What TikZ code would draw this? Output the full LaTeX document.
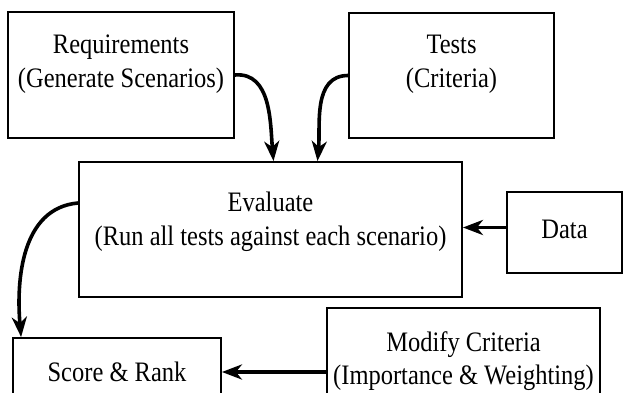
\documentclass[tikz,border=0pt]{standalone}
\usepackage{fontspec}
\setmainfont{Liberation Serif}
\usetikzlibrary{arrows.meta,calc}
\begin{document}
\begin{tikzpicture}[x=1pt,y=1pt,
  box/.style={draw=black, line width=1.8pt, inner sep=0pt, fill=none},
  txt/.style={align=center, inner sep=0pt, yscale=1.15, transform shape, font=\fontsize{24.5}{29.5}\selectfont},
  arr/.style={line width=3.6pt, -{Stealth[length=20pt,width=15pt,inset=6pt]}}]
\useasboundingbox[fill=white] (0,0) rectangle (623,393);
% boxes
\node[box, minimum width=226pt, minimum height=126pt] (req) at (121,318) {};
\node[box, minimum width=205pt, minimum height=125pt] (tests) at (451.5,317.5) {};
\node[box, minimum width=383pt, minimum height=135pt] (eval) at (270.5,163.5) {};
\node[box, minimum width=115pt, minimum height=81pt] (data) at (564.5,160.5) {};
\node[box, minimum width=208pt, minimum height=68pt] (score) at (117,21) {};
\node[box, minimum width=273pt, minimum height=122pt] (modify) at (463.5,24) {};
% texts
\node[txt] (reqT) at (121,329) {Requirements\\(Generate Scenarios)};
\node[txt] (testsT) at (451.5,328.5) {Tests\\(Criteria)};
\node[txt] (evalT) at (270.5,171) {Evaluate\\(Run all tests against each scenario)};
\node[txt] (dataT) at (564.5,164) {Data};
\node[txt] (scoreT) at (117,21) {Score \& Rank};
\node[txt, font=\fontsize{24.5}{28.5}\selectfont] (modifyT) at (463.5,32) {Modify Criteria\\(Importance \& Weighting)};
% connectors
\draw[arr] (req.east) to[out=5, in=95] ($(eval.north)+(3,0)$);
\draw[arr] (tests.west) to[out=180, in=85] ($(eval.north)+(47,0)$);
\draw[arr] ([yshift=5pt]data.west) -- ([yshift=5pt]data.west -| eval.east);
\draw[arr] ([yshift=26.5pt]eval.west) to[out=185, in=95] ($(score.north west)+(9,0)$);
\draw[arr] (modify.west |- score.east) -- (score.east);
\end{tikzpicture}
\end{document}
